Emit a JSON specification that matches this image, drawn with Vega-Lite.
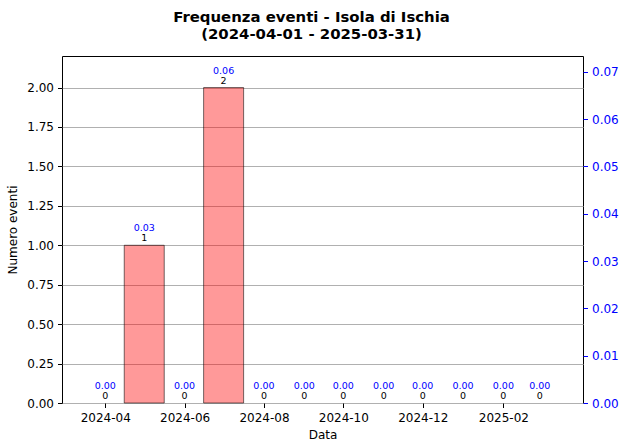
{
  "$schema": "https://vega.github.io/schema/vega-lite/v6.json",
  "width": 521,
  "height": 347,
  "autosize": {"type": "none"},
  "padding": {"left": 62, "top": 56, "right": 40, "bottom": 40},
  "background": "white",
  "title": {
    "text": ["Frequenza eventi - Isola di Ischia", "(2024-04-01 - 2025-03-31)"],
    "font": "DejaVu Sans",
    "fontSize": 14.9,
    "fontWeight": "bold",
    "color": "#000000",
    "anchor": "middle",
    "dx": -11,
    "offset": 14,
    "lineHeight": 17
  },
  "config": {
    "view": {"stroke": "#000000", "strokeWidth": 1},
    "font": "DejaVu Sans",
    "axis": {
      "labelFont": "DejaVu Sans",
      "titleFont": "DejaVu Sans",
      "labelFontSize": 12,
      "titleFontSize": 12,
      "titleFontWeight": "normal",
      "labelColor": "#000000",
      "titleColor": "#000000",
      "tickColor": "#000000",
      "tickSize": 4.5,
      "tickWidth": 1,
      "domain": false
    }
  },
  "data": {
    "values": [
      {"date": "2024-04-01", "count": 0, "rate": 0},
      {"date": "2024-05-01", "count": 1, "rate": 0.0323},
      {"date": "2024-06-01", "count": 0, "rate": 0},
      {"date": "2024-07-01", "count": 2, "rate": 0.0645},
      {"date": "2024-08-01", "count": 0, "rate": 0},
      {"date": "2024-09-01", "count": 0, "rate": 0},
      {"date": "2024-10-01", "count": 0, "rate": 0},
      {"date": "2024-11-01", "count": 0, "rate": 0},
      {"date": "2024-12-01", "count": 0, "rate": 0},
      {"date": "2025-01-01", "count": 0, "rate": 0},
      {"date": "2025-02-01", "count": 0, "rate": 0},
      {"date": "2025-03-01", "count": 0, "rate": 0}
    ]
  },
  "resolve": {"scale": {"y": "independent"}},
  "layer": [
    {
      "encoding": {
        "x": {
          "field": "date",
          "type": "temporal",
          "scale": {
            "type": "utc",
            "padding": 0,
            "domain": [
              {"year": 2024, "month": 2, "date": 27, "hours": 19, "utc": true},
              {"year": 2025, "month": 4, "date": 3, "hours": 5, "utc": true}
            ]
          },
          "axis": {
            "title": "Data",
            "grid": false,
            "format": "%Y-%m",
            "labelPadding": 5,
            "titlePadding": 6,
            "values": [
              {"year": 2024, "month": 4, "date": 1, "utc": true},
              {"year": 2024, "month": 6, "date": 1, "utc": true},
              {"year": 2024, "month": 8, "date": 1, "utc": true},
              {"year": 2024, "month": 10, "date": 1, "utc": true},
              {"year": 2024, "month": 12, "date": 1, "utc": true},
              {"year": 2025, "month": 2, "date": 1, "utc": true}
            ]
          }
        },
        "y": {
          "field": "count",
          "type": "quantitative",
          "scale": {"domain": [0, 2.2], "nice": false},
          "axis": {
            "title": "Numero eventi",
            "orient": "left",
            "grid": true,
            "gridColor": "#b0b0b0",
            "gridWidth": 1,
            "values": [0, 0.25, 0.5, 0.75, 1, 1.25, 1.5, 1.75, 2],
            "format": ".2f",
            "labelPadding": 4,
            "titlePadding": 7
          }
        }
      },
      "layer": [
        {
          "transform": [{"filter": "datum.count > 0"}],
          "mark": {"type": "bar", "width": 40, "fill": "#ff0000", "fillOpacity": 0.4, "stroke": "#000000", "strokeOpacity": 0.55, "strokeWidth": 1}
        },
        {
          "mark": {"type": "text", "dy": -4, "baseline": "alphabetic", "fontSize": 9.5, "color": "#000000", "font": "DejaVu Sans"},
          "encoding": {"text": {"field": "count", "type": "quantitative"}}
        },
        {
          "mark": {"type": "text", "dy": -14, "baseline": "alphabetic", "fontSize": 9.5, "color": "#0000ff", "font": "DejaVu Sans"},
          "encoding": {"text": {"field": "rate", "type": "quantitative", "format": ".2f"}}
        }
      ]
    },
    {
      "mark": {"type": "point", "opacity": 0},
      "encoding": {
        "y": {
          "field": "rate",
          "type": "quantitative",
          "scale": {"domain": [0, 0.07333], "nice": false},
          "axis": {
            "orient": "right",
            "title": null,
            "grid": false,
            "values": [0, 0.01, 0.02, 0.03, 0.04, 0.05, 0.06, 0.07],
            "format": ".2f",
            "labelColor": "#0000ff",
            "tickColor": "#0000ff",
            "labelPadding": 4
          }
        }
      }
    }
  ]
}
